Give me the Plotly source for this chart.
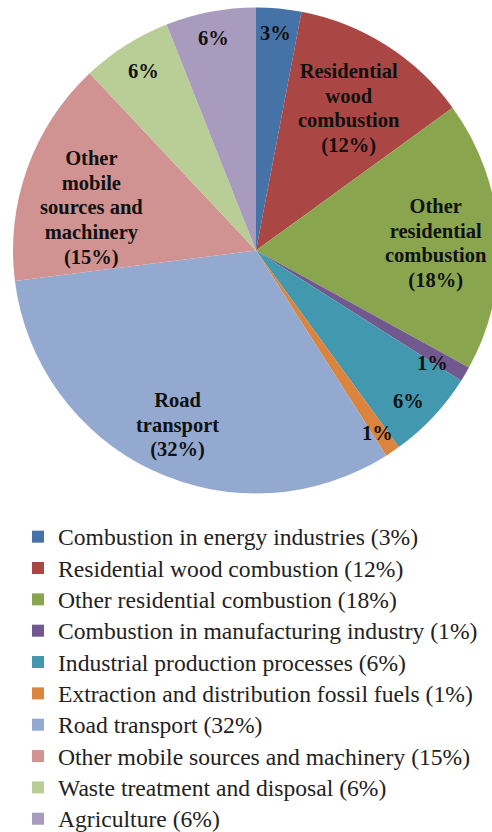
import math
import plotly.graph_objects as go

categories = [
    "Combustion in energy industries",
    "Residential wood combustion",
    "Other residential combustion",
    "Combustion in manufacturing industry",
    "Industrial production processes",
    "Extraction and distribution fossil fuels",
    "Road transport",
    "Other mobile sources and machinery",
    "Waste treatment and disposal",
    "Agriculture",
]
values = [3, 12, 18, 1, 6, 1, 32, 15, 6, 6]
slice_labels = [
    "3%",
    "Residential<br>wood<br>combustion<br>(12%)",
    "Other<br>residential<br>combustion<br>(18%)",
    "1%",
    "6%",
    "1%",
    "Road<br>transport<br>(32%)",
    "Other<br>mobile<br>sources and<br>machinery<br>(15%)",
    "6%",
    "6%",
]
colors = ["#4572A7", "#AA4643", "#89A54E", "#71588F", "#4198AF",
          "#DB843D", "#93A9CF", "#D19392", "#B9CD96", "#A99BBD"]
# label placement: fraction of radius, and angular offset (deg) from slice middle
label_radius_frac = [0.90, 0.70, 0.74, 0.86, 0.88, 0.90, 0.79, 0.70, 0.87, 0.89]
label_angle_offset = [-0.4, 0.9, 1.5, 2.0, 1.4, 0.6, -0.9, -5.4, 0.3, -0.6]

W, H = 500, 832
cx, cy, R = 256.0, 250.5, 243.0

legend_names = [
    f'<span style="font-size:23.6px">{c} ({v}%)</span>'
    for c, v in zip(categories, values)
]

fig = go.Figure(go.Pie(
    labels=legend_names,
    values=values,
    sort=False,
    direction="clockwise",
    rotation=0,
    marker=dict(colors=colors, line=dict(width=0)),
    textinfo="none",
    hovertext=[f"{c} ({v}%)" for c, v in zip(categories, values)],
    hoverinfo="text",
    domain=dict(x=[(cx - R) / W, (cx + R) / W],
                y=[1 - (cy + R) / H, 1 - (cy - R) / H]),
))

total = sum(values)
cum = 0
annotations = []
for v, txt, f, off in zip(values, slice_labels, label_radius_frac, label_angle_offset):
    mid = (cum + v / 2) / total * 2 * math.pi + math.radians(off)
    cum += v
    px = cx + R * f * math.sin(mid)
    py = cy - R * f * math.cos(mid)
    annotations.append(dict(
        x=px / W, y=1 - py / H, xref="paper", yref="paper",
        text=f'<span style="font-size:20.5px">{txt}</span>', showarrow=False,
        xanchor="center", yanchor="middle",
        font=dict(family="Liberation Serif", size=19, color="#111111",
                  weight="bold"),
    ))

fig.update_layout(
    width=W, height=H,
    margin=dict(l=0, r=0, t=0, b=0, autoexpand=False),
    paper_bgcolor="white",
    plot_bgcolor="white",
    annotations=annotations,
    showlegend=True,
    legend=dict(
        x=18 / W, y=1 - 516 / H, xanchor="left", yanchor="top",
        font=dict(family="Liberation Serif", size=21.8, color="#222222"),
        bgcolor="rgba(0,0,0,0)", traceorder="normal",
    ),
)

fig.write_html(
    "out.html",
    config={"displayModeBar": False},
    post_script="document.body.style.margin='0';document.body.style.overflow='hidden';",
)
